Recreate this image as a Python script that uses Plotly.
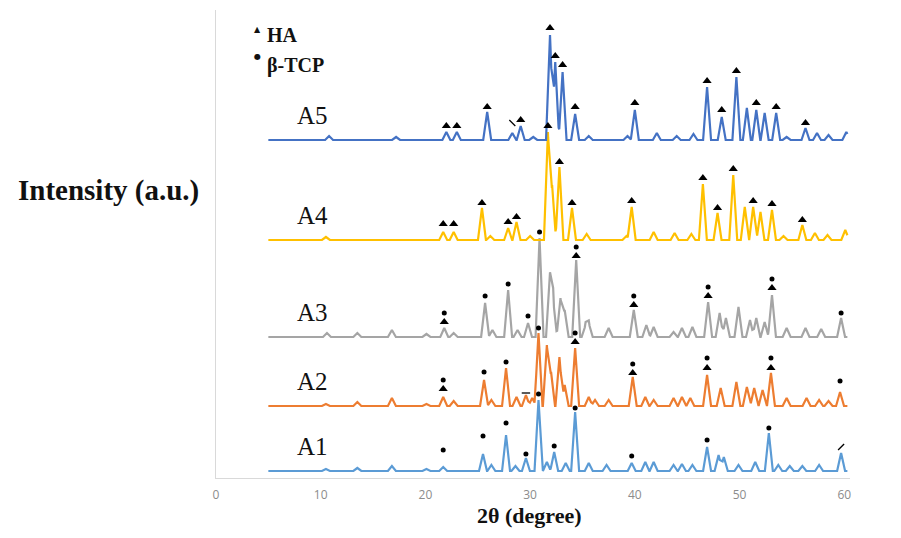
import numpy as np
import plotly.graph_objects as go

# ---- scan range (2θ, degrees) ----
X_START, X_END = 5.0, 60.3

# ---- samples ----
names = ["A1", "A2", "A3", "A4", "A5"]
colors = ["#5B9BD5", "#ED7D31", "#A5A5A5", "#FFC000", "#4472C4"]
offsets = [7, 72, 141, 238, 338]          # vertical stacking offset (a.u.)

# ---- reflections: 2θ position and height above the sample's baseline (a.u.) ----
a1_pos = [10.5, 13.5, 16.8, 20.1, 21.7, 25.5, 26.3, 27.7, 28.6, 29.6, 30.8, 31.6, 32.3, 33.4,
          34.3, 35.6, 37.3, 39.7, 41.0, 41.8, 43.7, 44.5, 45.5, 46.9, 48.0, 48.5, 49.9, 51.5,
          52.8, 53.7, 54.8, 56.0, 57.6, 59.7]
a1_hgt = [2, 3, 5, 2, 4, 17, 6, 36, 5, 13, 71, 9, 19, 8,
          59, 8, 6, 8, 9, 9, 6, 7, 6, 24, 16, 14, 6, 9,
          38, 6, 5, 5, 6, 18]

a2_pos = [10.5, 13.5, 16.8, 20.1, 21.7, 22.7, 25.6, 26.3, 27.7, 28.7, 29.6, 30.2, 30.8, 31.6,
          32.0, 32.8, 33.3, 34.3, 35.6, 36.2, 37.5, 39.8, 41.0, 41.8, 43.7, 44.5, 45.3, 46.9,
          48.2, 49.7, 50.7, 51.4, 52.2, 53.0, 54.5, 56.4, 57.6, 58.5, 59.6]
a2_hgt = [2, 4, 8, 2, 9, 5, 26, 6, 38, 9, 11, 8, 73, 61,
          34, 49, 21, 58, 9, 6, 6, 29, 9, 6, 8, 9, 8, 31,
          18, 24, 19, 18, 16, 33, 8, 8, 6, 5, 14]

a3_pos = [10.6, 13.5, 16.8, 20.1, 21.8, 22.7, 25.7, 26.4, 27.9, 28.8, 29.8, 30.9, 31.9, 32.2,
          32.9, 33.3, 34.4, 35.3, 35.6, 37.5, 39.9, 41.1, 41.8, 43.7, 44.5, 45.5, 47.0, 48.1,
          48.7, 49.9, 51.0, 51.6, 52.4, 53.1, 54.5, 56.3, 57.8, 59.7]
a3_hgt = [4, 4, 7, 3, 9, 4, 34, 7, 47, 7, 14, 99, 57, 37,
          39, 27, 77, 12, 14, 9, 27, 12, 10, 5, 9, 10, 35, 24,
          19, 30, 17, 19, 15, 42, 9, 9, 8, 19]

a4_pos = [10.5, 21.7, 22.7, 25.4, 26.2, 27.9, 28.7, 30.0, 31.7, 32.1, 32.8, 34.0, 35.4, 39.2,
          39.7, 41.8, 43.8, 45.4, 46.5, 47.9, 49.4, 50.5, 51.3, 52.0, 53.1, 54.2, 56.0, 57.2,
          58.4, 60.1]
a4_hgt = [3, 8, 8, 32, 4, 12, 18, 4, 108, 55, 73, 32, 6, 4,
          33, 8, 7, 6, 56, 27, 65, 33, 33, 28, 30, 4, 15, 7,
          5, 10]

a5_pos = [10.8, 17.2, 22.0, 23.0, 25.9, 28.3, 29.1, 30.3, 31.9, 32.4, 33.1, 34.3, 35.6, 39.3,
          40.0, 42.1, 44.0, 45.6, 46.9, 48.3, 49.7, 50.7, 51.6, 52.4, 53.5, 54.5, 56.3, 57.4,
          58.5, 60.2]
a5_hgt = [4, 3, 8, 8, 28, 7, 14, 3, 105, 78, 68, 26, 4, 4,
          30, 7, 4, 6, 53, 23, 63, 32, 30, 27, 27, 3, 12, 7,
          5, 8]

peak_pos = [a1_pos, a2_pos, a3_pos, a4_pos, a5_pos]
peak_hgt = [a1_hgt, a2_hgt, a3_hgt, a4_hgt, a5_hgt]

# ---- phase marks: 2θ and level above the sample's baseline (a.u.) ----
ha_pos = [[],
          [21.7, 34.3, 39.8, 46.9, 53.0],
          [21.8, 34.4, 39.9, 47.0, 53.1],
          [21.7, 22.7, 25.4, 27.9, 28.7, 31.7, 32.8, 34.0, 39.7, 46.5, 47.9, 49.4, 51.3, 53.1, 56.0],
          [22.0, 23.0, 25.9, 29.1, 31.9, 32.4, 33.1, 34.3, 40.0, 46.9, 48.3, 49.7, 51.6, 53.5, 56.3]]
ha_lvl = [[],
          [17, 64, 33, 38, 38],
          [15, 81, 32, 41, 49],
          [16, 16, 37, 18, 23, 114, 78, 37, 39, 62, 32, 71, 39, 36, 20],
          [14, 14, 33, 20, 112, 84, 75, 33, 37, 59, 30, 69, 37, 33, 17]]

tcp_pos = [[21.7, 25.5, 27.7, 29.6, 30.8, 32.3, 34.3, 39.7, 46.9, 52.8],
           [21.7, 25.6, 27.7, 30.8, 34.3, 39.8, 46.9, 53.0, 59.6],
           [21.8, 25.7, 27.9, 29.8, 30.9, 34.4, 39.9, 47.0, 53.1, 59.7],
           [],
           []]
tcp_lvl = [[21, 35, 48, 17, 77, 25, 63, 15, 31, 43],
           [26, 34, 44, 78, 73, 42, 48, 48, 25],
           [24, 41, 53, 21, 105, 90, 41, 50, 58, 24],
           [],
           []]

# stray tick marks: (sample index, 2θ, level, symbol)
stray_idx = [0, 1, 4]
stray_pos = [59.7, 29.6, 28.3]
stray_lvl = [24, 13, 17]
stray_sym = ["line-ne", "line-ew", "line-nw"]

x_ticks = [0, 10, 20, 30, 40, 50, 60]
HALF_WIDTH = 0.38


def pattern(pos, hgt):
    """Piecewise-linear diffraction pattern built from a reflection list."""
    xs = {X_START, X_END}
    for p in pos:
        xs.update([p - HALF_WIDTH, p, p + HALF_WIDTH])
    xs = np.array(sorted(v for v in xs if X_START <= v <= X_END))
    ys = np.zeros_like(xs)
    for p, h in zip(pos, hgt):
        ys += h * np.clip(1 - np.abs(xs - p) / HALF_WIDTH, 0, None)
    return xs, ys


fig = go.Figure()

for i in range(len(names)):
    xs, ys = pattern(peak_pos[i], peak_hgt[i])
    fig.add_trace(go.Scatter(x=xs, y=ys + offsets[i], mode="lines",
                             line=dict(color=colors[i], width=2.2), name=names[i],
                             hoverinfo="skip", showlegend=False))

ha_x = [p for i in range(5) for p in ha_pos[i]]
ha_y = [offsets[i] + l for i in range(5) for l in ha_lvl[i]]
tcp_x = [p for i in range(5) for p in tcp_pos[i]]
tcp_y = [offsets[i] + l for i in range(5) for l in tcp_lvl[i]]

fig.add_trace(go.Scatter(x=ha_x, y=ha_y, mode="markers", showlegend=False, hoverinfo="skip",
                         marker=dict(symbol="triangle-up", size=8, color="black")))
fig.add_trace(go.Scatter(x=tcp_x, y=tcp_y, mode="markers", showlegend=False, hoverinfo="skip",
                         marker=dict(symbol="circle", size=5, color="black")))
fig.add_trace(go.Scatter(x=stray_pos, y=[offsets[i] + l for i, l in zip(stray_idx, stray_lvl)],
                         mode="markers", showlegend=False, hoverinfo="skip",
                         marker=dict(symbol=stray_sym, size=6,
                                     line=dict(color="black", width=1.3))))

serif = "Liberation Serif, Times New Roman, serif"


def note(x, y, text, size, family=serif, xanchor="center", xref="paper", yref="paper"):
    return dict(x=x, y=y, xref=xref, yref=yref, text=text, showarrow=False,
                xanchor=xanchor, yanchor="middle",
                font=dict(family=family, size=size, color="#111"))


annotations = [note(9.2, offsets[i] + 25, nm, 25, xref="x", yref="y")
               for i, nm in enumerate(names)]

# phase key
annotations += [
    note(0.0647, 0.959, "▲", 8, family="DejaVu Sans"),
    note(0.077, 0.947, "<b>HA</b>", 20, xanchor="left"),
    note(0.0647, 0.900, "●", 8, family="DejaVu Sans"),
    note(0.077, 0.882, "<b>β-TCP</b>", 20, xanchor="left"),
    note(-0.170, 0.615, "<b>Intensity (a.u.)</b>", 29),
    note(0.494, -0.080, "<b>2θ (degree)</b>", 22),
]

fig.update_layout(
    width=901, height=538,
    margin=dict(l=216, r=51, t=10, b=60),
    paper_bgcolor="white", plot_bgcolor="white",
    annotations=annotations,
    xaxis=dict(range=[0, 60.55], tickvals=x_ticks, ticktext=[str(v) for v in x_ticks],
               showgrid=False, zeroline=False, showline=True, linecolor="#d9d9d9",
               linewidth=1, ticks="", ticklabelstandoff=6,
               tickfont=dict(family="Open Sans, sans-serif", size=12, color="#8c8c8c")),
    yaxis=dict(range=[0, 468], showgrid=False, zeroline=False, showline=True,
               linecolor="#d9d9d9", linewidth=1, showticklabels=False, ticks=""),
)

fig.write_html("out.html", config={"displayModeBar": False})
